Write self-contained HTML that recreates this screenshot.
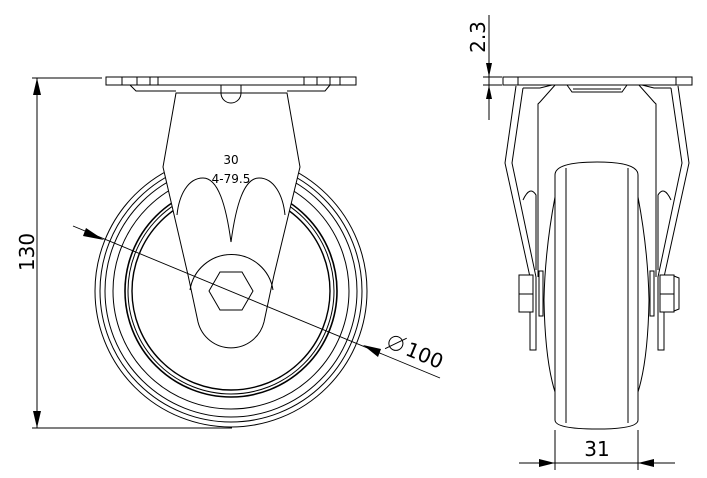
<!DOCTYPE html>
<html><head><meta charset="utf-8"><style>
html,body{margin:0;padding:0;background:#fff;width:707px;height:478px;overflow:hidden}
svg{display:block}
text{font-family:"DejaVu Sans","Liberation Sans",sans-serif;fill:#000}
</style></head><body>
<svg width="707" height="478" viewBox="0 0 707 478" xmlns="http://www.w3.org/2000/svg">
<g fill="none" stroke="#000" stroke-width="1">
<circle cx="231" cy="291" r="136"/>
<circle cx="231" cy="291" r="131"/>
<circle cx="231" cy="291" r="126"/>
<circle cx="231" cy="291" r="118"/>
<circle cx="231" cy="291" r="106" stroke-width="1.6"/>
<circle cx="231" cy="291" r="103"/>
<circle cx="231" cy="291" r="99" stroke-width="1.4"/>
<path d="M176,93 L163,167 L188,275 L198,322 A34,34 0 0 0 264,322 L274,275 L300,167 L287,93 Z" fill="#fff"/>
<path d="M231,242 C226,205 218,178 203,178 C188,178 179,195 177,215"/>
<path d="M231,242 C236,205 244,178 259,178 C274,178 283,195 285,215"/>
<path d="M190,290 A42,42 0 0 1 273,290"/>
<polygon points="209,291 220,272 242,272 253,291 242,310 220,310" fill="#fff"/>
<rect x="106" y="77" width="250" height="8" fill="#fff"/>
<line x1="122" y1="77" x2="122" y2="85"/><line x1="137" y1="77" x2="137" y2="85"/><line x1="150" y1="77" x2="150" y2="85"/><line x1="158" y1="77" x2="158" y2="85"/>
<line x1="304" y1="77" x2="304" y2="85"/><line x1="317" y1="77" x2="317" y2="85"/><line x1="330" y1="77" x2="330" y2="85"/><line x1="340" y1="77" x2="340" y2="85"/>
<path d="M130,85 L136,91 L176,91"/><path d="M330,85 L325,91 L287,91"/>
<path d="M221,85 L221,93 A10,10 0 0 0 241,93 L241,85"/>
<line x1="176" y1="93" x2="287" y2="93"/>
<line x1="73" y1="226" x2="440" y2="378" stroke-width="0.9"/>
<line x1="37" y1="78" x2="37" y2="428"/>
<line x1="32" y1="78" x2="102" y2="78"/>
<line x1="32" y1="428" x2="232" y2="428"/>

<path d="M516,86 L505,163 L530,277 L530,350 L536,350 L536,277 L512,163 L523,88" fill="#fff"/>
<path d="M678,86 L689,163 L664,277 L664,350 L658,350 L658,277 L682,163 L671,88" fill="#fff"/>
<path d="M523,88 L540,88 L556,84 L540,102 L538,104 L538,277"/>
<path d="M671,88 L654,88 L638,84 L654,102 L656,104 L656,277"/>
<path d="M567,85 L572,92 L622,92 L627,85"/>
<line x1="573" y1="89" x2="621" y2="89"/>
<path d="M555,197 Q545,250 544,300 Q545,360 555,392"/>
<path d="M638,197 Q648,250 649,300 Q648,360 638,392"/>
<path d="M523,200 Q530,185 536,195 L536,270"/>
<path d="M671,200 Q664,185 658,195 L658,270"/>
<path d="M555,175 Q555,162 597,162 Q638,162 638,175 L638,420 Q638,429 597,429 Q555,429 555,420 Z" fill="#fff"/>
<line x1="566" y1="168" x2="566" y2="423"/><line x1="628" y1="168" x2="628" y2="423"/>
<rect x="519" y="275" width="14" height="37" fill="#fff"/><line x1="519" y1="294" x2="533" y2="294"/>
<rect x="539" y="271" width="4" height="45" fill="#fff"/>
<rect x="650" y="271" width="4" height="45" fill="#fff"/>
<rect x="660" y="275" width="14" height="37" fill="#fff"/><line x1="660" y1="294" x2="674" y2="294"/>
<path d="M674,276 L679,278 L679,309 L674,311"/>
<rect x="503" y="77" width="189" height="8" fill="#fff"/>
<line x1="518" y1="77" x2="518" y2="85"/><line x1="676" y1="77" x2="676" y2="85"/>
<line x1="489" y1="15" x2="489" y2="120"/>
<line x1="483" y1="77" x2="502" y2="77"/><line x1="483" y1="85" x2="502" y2="85"/>
<line x1="555" y1="430" x2="555" y2="470"/><line x1="638" y1="430" x2="638" y2="470"/>
<line x1="519" y1="463" x2="675" y2="463"/>
</g>
<g fill="#000" stroke="none">
<polygon points="37,78 33,95 41,95"/>
<polygon points="37,428 33,411 41,411"/>
<polygon points="104,240 86,228 83,236"/>
<polygon points="363,345 381,349 378,357"/>
<polygon points="489,77 486,63 492,63"/>
<polygon points="489,85 486,99 492,99"/>
<polygon points="555,463 539,459 539,467"/>
<polygon points="638,463 654,459 654,467"/>
</g>
<text x="231" y="164" font-size="12" text-anchor="middle">30</text>
<text x="231" y="183" font-size="12" text-anchor="middle">4-79.5</text>
<text x="0" y="0" font-size="20" text-anchor="middle" transform="translate(34,252) rotate(-90)">130</text>
<text x="0" y="0" font-size="20" text-anchor="middle" transform="translate(485,37) rotate(-90)">2.3</text>
<text x="597" y="456" font-size="20" text-anchor="middle">31</text>
<g transform="translate(408,356) rotate(22.5)">
<circle cx="-16" cy="-7" r="7" fill="none" stroke="#000" stroke-width="1"/>
<line x1="-24" y1="2" x2="-8" y2="-16" stroke="#000" stroke-width="1"/>
<text x="-4" y="0" font-size="20">100</text>
</g>
</svg>
</body></html>
